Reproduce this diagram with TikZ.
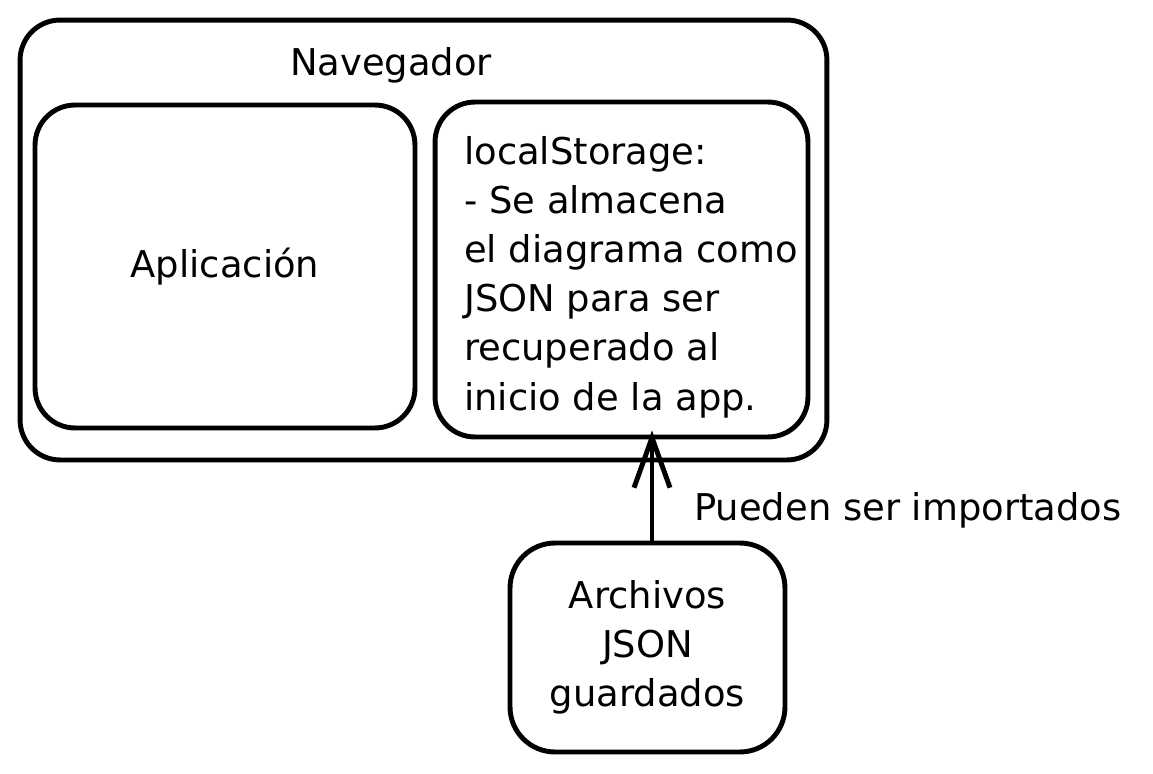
\documentclass[tikz,border=0pt]{standalone}
\usepackage{fontspec}
\setmainfont{DejaVu Sans}
\usepackage{tikz}
\usetikzlibrary{arrows.meta}

\begin{document}
\begin{tikzpicture}[x=0.02cm, y=-0.02cm,
        box/.style={draw, line width=2.8pt, rounded corners=0.8cm, align=left},
        txt/.style={font=\fontsize{21}{28}\selectfont}]
        \useasboundingbox (0,0) rectangle (1153,774);
        % browser frame
        \node[box, minimum width=16.14cm, minimum height=8.8cm] (nav) at (423.5,240) {};
        \node[txt] (navlabel) at (391,65) {Navegador};
        \node[box, txt, minimum width=7.6cm, minimum height=6.46cm] (app) at (225,266.5) {Aplicación};
        \node[box, minimum width=7.46cm, minimum height=6.7cm] (ls) at (621.5,269.5) {};
        \node[txt, align=left, anchor=west] (lstext) at (458,277)
            {localStorage:\\- Se almacena\\el diagrama como\\JSON para ser\\recuperado al\\inicio de la app.};
        \node[box, txt, align=center, minimum width=5.5cm, minimum height=4.18cm, rounded corners=0.9cm] (files) at (647.5,647.5)
            {Archivos\\JSON\\guardados};
        % import arrow
        \draw[line width=2.8pt, -{Straight Barb[length=1cm, width=0.72cm, line width=2.8pt]}, shorten >=-0.18cm] (files.north -| 652,0) -- (ls.south -| 652,0);
        \node[txt, anchor=west] (imp) at (688,510) {Pueden ser importados};
\end{tikzpicture}
\end{document}
